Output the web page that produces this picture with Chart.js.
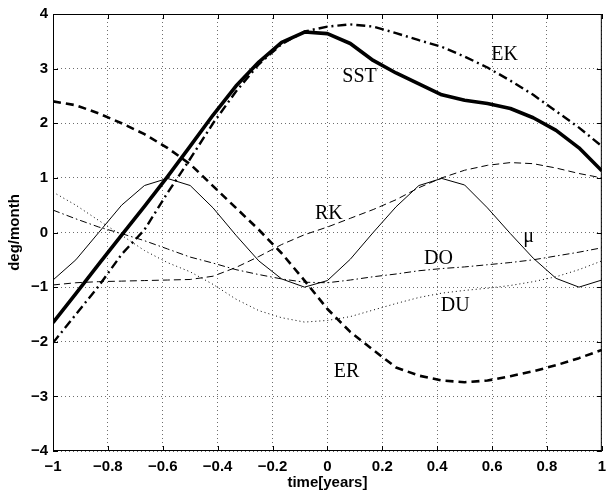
<!DOCTYPE html>
<html>
<head>
<meta charset="utf-8">
<script src="https://cdn.jsdelivr.net/npm/chart.js@4/dist/chart.umd.min.js"></script>
<style>
  html, body { margin: 0; padding: 0; background: #fff; }
  #wrap { width: 613px; height: 492px; }
</style>
</head>
<body>
<div id="wrap"><canvas id="c" width="613" height="492"></canvas></div>
<script>
// Monthly sample times over two years, centred on the event peak
const time = [-1, -0.9167, -0.8333, -0.75, -0.6667, -0.5833, -0.5, -0.4167, -0.3333, -0.25, -0.1667, -0.0833,
              0, 0.0833, 0.1667, 0.25, 0.3333, 0.4167, 0.5, 0.5833, 0.6667, 0.75, 0.8333, 0.9167, 1];

// Tendency terms, deg/month
const sst = [-1.65, -1.12, -0.58, -0.05, 0.48, 1.02, 1.58, 2.15, 2.68, 3.12, 3.48, 3.67,
             3.64, 3.46, 3.15, 2.92, 2.72, 2.52, 2.42, 2.36, 2.27, 2.10, 1.87, 1.55, 1.13];
const ek  = [-2.02, -1.50, -0.98, -0.40, 0.05, 0.72, 1.35, 2.00, 2.58, 3.08, 3.45, 3.68,
             3.77, 3.81, 3.77, 3.65, 3.52, 3.40, 3.22, 3.02, 2.78, 2.52, 2.22, 1.92, 1.58];
const er  = [2.40, 2.33, 2.18, 2.00, 1.80, 1.55, 1.25, 0.85, 0.45, 0.05, -0.38, -0.88,
             -1.40, -1.82, -2.15, -2.47, -2.62, -2.71, -2.74, -2.71, -2.63, -2.54, -2.43, -2.30, -2.15];
const mu  = [-0.87, -0.50, 0.00, 0.50, 0.86, 0.99, 0.86, 0.45, -0.05, -0.52, -0.85, -1.00,
             -0.88, -0.49, 0.00, 0.47, 0.86, 0.99, 0.87, 0.45, -0.02, -0.47, -0.84, -1.00, -0.87];
const rk  = [-0.96, -0.92, -0.90, -0.89, -0.88, -0.87, -0.86, -0.80, -0.64, -0.44, -0.22, -0.04,
             0.10, 0.26, 0.42, 0.60, 0.82, 1.00, 1.14, 1.23, 1.28, 1.26, 1.18, 1.08, 1.00];
const dO  = [0.41, 0.25, 0.10, -0.02, -0.15, -0.30, -0.45, -0.56, -0.68, -0.77, -0.85, -0.91,
             -0.92, -0.87, -0.81, -0.76, -0.70, -0.66, -0.63, -0.59, -0.55, -0.50, -0.43, -0.36, -0.28];
const du  = [0.74, 0.50, 0.22, -0.05, -0.33, -0.55, -0.72, -0.95, -1.22, -1.43, -1.56, -1.64,
             -1.61, -1.54, -1.42, -1.30, -1.19, -1.11, -1.06, -1.02, -0.97, -0.90, -0.81, -0.68, -0.52];

// Axis ticks
const xTicks = [-1, -0.8, -0.6, -0.4, -0.2, 0, 0.2, 0.4, 0.6, 0.8, 1];
const xTickLabels = ['\u22121', '\u22120.8', '\u22120.6', '\u22120.4', '\u22120.2', '0', '0.2', '0.4', '0.6', '0.8', '1'];
const yTicks = [-4, -3, -2, -1, 0, 1, 2, 3, 4];
const yTickLabels = ['\u22124', '\u22123', '\u22122', '\u22121', '0', '1', '2', '3', '4'];

// Curve names and where they are written (data coordinates)
const curveNames = ['EK', 'SST', 'RK', '\u03bc', 'DO', 'DU', 'ER'];
const nameX = [0.646, 0.117, 0.005, 0.733, 0.405, 0.466, 0.07];
const nameY = [3.25, 2.85, 0.34, -0.08, -0.48, -1.34, -2.55];

const pts = ys => time.map((t, i) => ({ x: t, y: ys[i] }));

function series(label, ys, width, dash) {
  return {
    label, data: pts(ys), borderColor: '#000', backgroundColor: '#000',
    borderWidth: width, borderDash: dash, pointRadius: 0, tension: 0, fill: false,
    borderCapStyle: 'butt', borderJoinStyle: 'round'
  };
}

const frame = {
  id: 'frame',
  afterDraw(chart) {
    const { ctx, chartArea: a, scales: { x, y } } = chart;
    ctx.save();
    ctx.strokeStyle = '#000';
    ctx.lineWidth = 1;
    ctx.setLineDash([]);
    ctx.strokeRect(a.left + 0.5, a.top + 0.5, a.right - a.left - 1, a.bottom - a.top - 1);
    const tl = 5;
    ctx.beginPath();
    xTicks.forEach(v => {
      const px = Math.round(x.getPixelForValue(v)) + 0.5;
      ctx.moveTo(px, a.bottom); ctx.lineTo(px, a.bottom - tl);
      ctx.moveTo(px, a.top); ctx.lineTo(px, a.top + tl);
    });
    yTicks.forEach(v => {
      const py = Math.round(y.getPixelForValue(v)) + 0.5;
      ctx.moveTo(a.left, py); ctx.lineTo(a.left + tl, py);
      ctx.moveTo(a.right, py); ctx.lineTo(a.right - tl, py);
    });
    ctx.stroke();

    ctx.fillStyle = '#000';
    ctx.font = '20px "Liberation Serif", "Times New Roman", serif';
    ctx.textAlign = 'center';
    ctx.textBaseline = 'middle';
    curveNames.forEach((n, i) => {
      ctx.fillText(n, x.getPixelForValue(nameX[i]), y.getPixelForValue(nameY[i]));
    });
    ctx.restore();
  }
};

const tickFont = { family: '"Liberation Sans", Arial, Helvetica, sans-serif', size: 15, weight: 'bold' };

new Chart(document.getElementById('c'), {
  type: 'line',
  data: {
    datasets: [
      series('DU', du, 1, [1, 3]),
      series('DO', dO, 1, [7, 3, 1.5, 3]),
      series('RK', rk, 1, [7, 4]),
      series('\u03bc', mu, 1, []),
      series('ER', er, 2.6, [8, 5]),
      series('EK', ek, 2.4, [9, 4, 2, 4]),
      series('SST', sst, 3.6, [])
    ]
  },
  options: {
    responsive: false,
    animation: false,
    devicePixelRatio: 1,
    layout: { padding: { top: 12, right: 5, left: 6, bottom: 0 } },
    plugins: { legend: { display: false }, tooltip: { enabled: false } },
    scales: {
      x: {
        type: 'linear', min: -1, max: 1,
        afterBuildTicks: s => { s.ticks = xTicks.map(v => ({ value: v })); },
        afterFit: s => { s.height = 41; },
        grid: { color: '#6e6e6e', lineWidth: 1, drawTicks: false },
        border: { display: false, dash: [1, 3] },
        ticks: {
          padding: 7, color: '#000', font: tickFont, maxRotation: 0, autoSkip: false,
          callback: (v, i) => xTickLabels[i]
        },
        title: { display: true, text: 'time[years]', color: '#000', font: tickFont, padding: 0 }
      },
      y: {
        type: 'linear', min: -4, max: 4,
        afterBuildTicks: s => { s.ticks = yTicks.map(v => ({ value: v })); },
        afterFit: s => { s.width = 47; },
        grid: { color: '#6e6e6e', lineWidth: 1, drawTicks: false },
        border: { display: false, dash: [1, 3] },
        ticks: {
          padding: 5, color: '#000', font: tickFont, autoSkip: false,
          callback: (v, i) => yTickLabels[i]
        },
        title: { display: true, text: 'deg/month', color: '#000', font: tickFont, padding: 0 }
      }
    }
  },
  plugins: [frame]
});
</script>
</body>
</html>
